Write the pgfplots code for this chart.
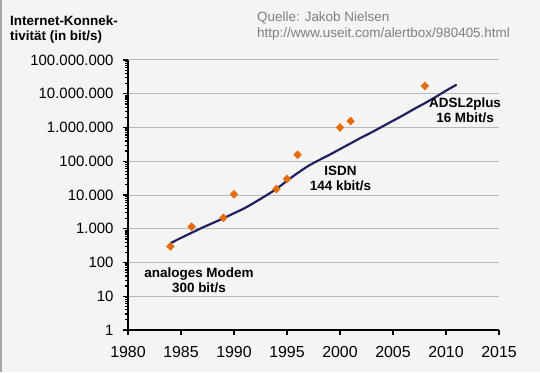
\documentclass[border=0pt]{standalone}
\usepackage{pgfplots}
\pgfplotsset{compat=1.18}
\usepackage{fontspec}
\setmainfont{Liberation Sans}
\definecolor{bg}{HTML}{F4F4F4}
\definecolor{navy}{HTML}{1F2160}
\definecolor{dorange}{HTML}{E46C0A}
\definecolor{srcgray}{HTML}{7F7F7F}
\begin{document}
\begin{tikzpicture}[x=1bp,y=1bp]
\fill[bg] (-128,-42) rectangle (412,330);
\fill[gray!70] (-128,-42) rectangle (-126,330);
\begin{axis}[
  at={(0,0)}, anchor=south west,
  scale only axis, width=371bp, height=270bp,
  xmin=1980, xmax=2015, ymode=log, ymin=1, ymax=1e8,
  axis x line*=bottom, axis y line*=left,
  axis line style={black, line width=1.6bp},
  xtick={1980,1985,...,2015},
  xticklabels={1980,1985,1990,1995,2000,2005,2010,2015},
  ytick={1,10,100,1000,10000,100000,1000000,10000000,100000000},
  yticklabels={1,10,100,1.000,10.000,100.000,1.000.000,10.000.000,100.000.000},
  tick align=outside,
  major tick length=5bp,
  minor tick num=0,
  tick style={black, line width=1.2bp},
  ymajorgrids, grid style={gray!55, line width=1bp},
  yticklabel style={xshift=-6bp, font=\fontsize{15}{17}\selectfont},
  xticklabel style={yshift=-8bp, font=\fontsize{16}{18}\selectfont},
  clip=false,
]
\addplot[navy, line width=2.2bp, smooth, no marks] coordinates {
(1984,372) (1985,537) (1986,759) (1987,1072) (1988,1479) (1989,2042)
(1990,2884) (1991,4074) (1992,6166) (1993,9550) (1994,15136) (1995,26303)
(1996,44668) (1997,72444) (1998,107152) (1999,154882) (2000,229087)
(2001,338844) (2002,501187) (2003,724436) (2004,1071519) (2005,1584893)
(2006,2344229) (2007,3548134) (2008,5248075) (2009,7943282) (2010,12302688)
(2011,18620871)
};
\addplot[only marks, mark=diamond*, mark size=4bp, color=dorange, mark options={xscale=1.3}] coordinates {
(1984,300) (1986,1150) (1989,2100) (1990,10500) (1994,15000) (1995,30000)
(1996,155000) (2000,1000000) (2001,1550000) (2008,17000000)
};
\node[font=\bfseries\fontsize{13.5}{15}\selectfont, align=center] at (axis cs:1986.7,30) {analoges Modem\\300 bit/s};
\node[font=\bfseries\fontsize{13.5}{15}\selectfont, align=center] at (axis cs:2000.05,30000) {ISDN\\144 kbit/s};
\node[font=\bfseries\fontsize{13.5}{15}\selectfont, align=center] at (axis cs:2011.8,3200000) {ADSL2plus\\16 Mbit/s};
\end{axis}
\node[font=\bfseries\fontsize{13.5}{15}\selectfont, anchor=base west, inner sep=0] at (-118,305) {Internet-Konnek-};
\node[font=\bfseries\fontsize{13.5}{15}\selectfont, anchor=base west, inner sep=0] at (-118,290) {tivität (in bit/s)};
\node[font=\fontsize{13.5}{15}\selectfont, text=srcgray, anchor=base west, inner sep=0] at (129,309) {Quelle: Jakob Nielsen};
\node[font=\fontsize{13.5}{15}\selectfont, text=srcgray, anchor=base west, inner sep=0] at (129,293) {http://www.useit.com/alertbox/980405.html};
\end{tikzpicture}
\end{document}
